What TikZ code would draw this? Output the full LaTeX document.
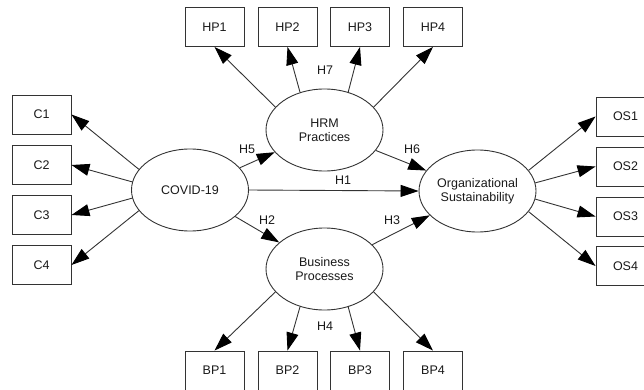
\documentclass[tikz,border=0pt]{standalone}
\usepackage{fontspec}
\setmainfont{Liberation Sans}
\usetikzlibrary{arrows.meta,shapes.geometric}
\begin{document}
\begin{tikzpicture}[x=1pt,y=-1pt,
  every node/.style={font=\fontsize{12.5}{14}\selectfont, text=black!90},
  box/.style={draw=black!80, line width=0.9pt, minimum width=59pt, minimum height=39pt, inner sep=0pt},
  latent/.style={ellipse, draw=black!80, line width=0.9pt, minimum width=117pt, minimum height=82pt, inner sep=0pt, align=center},
  arr/.style={draw=black!80, line width=0.9pt, -{Triangle[length=18pt,width=12pt,color=black]}},
  hlabel/.style={inner sep=1pt}]
\useasboundingbox (0,0) rectangle (644,390);
% latent variables
\node[latent] (cov) at (190,190) {COVID-19};
\node[latent] (hrm) at (324.5,130) {HRM\\Practices};
\node[latent] (bp) at (324.5,269) {Business\\Processes};
\node[latent] (os) at (477.5,191) {Organizational\\Sustainability};
% indicators
\node[box] (c1) at (41.5,114.5) {C1};
\node[box] (c2) at (41.5,165) {C2};
\node[box] (c3) at (41.5,215) {C3};
\node[box] (c4) at (41.5,265) {C4};
\node[box] (hp1) at (214.5,27) {HP1};
\node[box] (hp2) at (287.5,27) {HP2};
\node[box] (hp3) at (360,27) {HP3};
\node[box] (hp4) at (433,27) {HP4};
\node[box] (bp1) at (214.5,370.5) {BP1};
\node[box] (bp2) at (287.5,370.5) {BP2};
\node[box] (bp3) at (360,370.5) {BP3};
\node[box] (bp4) at (433,370.5) {BP4};
\node[box] (os1) at (625.5,116.5) {OS1};
\node[box] (os2) at (625.5,166.5) {OS2};
\node[box] (os3) at (625.5,216.5) {OS3};
\node[box] (os4) at (625.5,266) {OS4};
% measurement arrows
\draw[arr] (cov.158) -- (c1.east);
\draw[arr] (cov.172) -- (c2.east);
\draw[arr] (cov.188) -- (c3.east);
\draw[arr] (cov.202) -- (c4.east);
\draw[arr] (hrm.155) -- (hp1.south);
\draw[arr] (hrm.123) -- (hp2.south);
\draw[arr] (hrm.58) -- (hp3.south);
\draw[arr] (hrm.25) -- (hp4.south);
\draw[arr] (bp.205) -- (bp1.north);
\draw[arr] (bp.237) -- (bp2.north);
\draw[arr] (bp.302) -- (bp3.north);
\draw[arr] (bp.335) -- (bp4.north);
\draw[arr] (os.22) -- (os1.west);
\draw[arr] (os.8) -- (os2.west);
\draw[arr] (os.-8) -- (os3.west);
\draw[arr] (os.-22) -- (os4.west);
% structural arrows
\draw[arr] (cov) -- (hrm);
\draw[arr] (cov.east) -- (os.west);
\draw[arr] (cov) -- (bp);
\draw[arr] (hrm) -- (os);
\draw[arr] (bp) -- (os);
% hypothesis labels
\node[hlabel] (h1) at (343,180) {H1};
\node[hlabel] (h2) at (267,220) {H2};
\node[hlabel] (h3) at (392,220) {H3};
\node[hlabel] (h4) at (325,326) {H4};
\node[hlabel] (h5) at (247,149) {H5};
\node[hlabel] (h6) at (412,149) {H6};
\node[hlabel] (h7) at (325,70) {H7};
\end{tikzpicture}
\end{document}
